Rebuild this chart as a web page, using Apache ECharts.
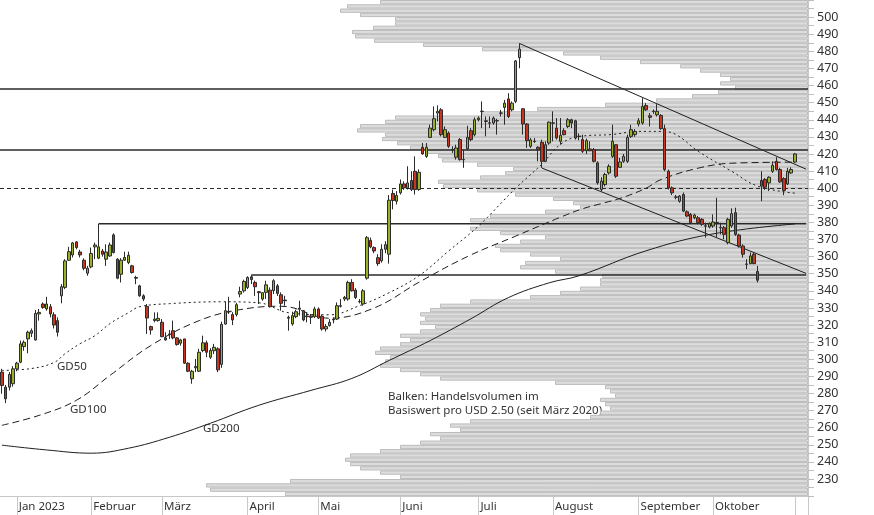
<!DOCTYPE html>
<html><head><meta charset="utf-8">
<script src="https://cdn.jsdelivr.net/npm/echarts@6/dist/echarts.min.js"></script>
<style>html,body{margin:0;padding:0;background:#fff}#c{width:874px;height:515px}</style>
</head><body><div id="c"></div>
<script>
// trading-day categories
const startDate = '2022-12-27';
const holidays = ['2023-01-02','2023-01-16','2023-02-20','2023-04-07','2023-05-29','2023-06-19','2023-07-04','2023-09-04'];
const nCategories = 217;
const monthLabels = {1:'Jan 2023',2:'Februar',3:'März',4:'April',5:'Mai',6:'Juni',7:'Juli',8:'August',9:'September',10:'Oktober'};
// candles [open, close, low, high]
const candles = [
[292.5,284.7,279.9,294.4],[283.7,276.9,274.4,285.0],[283.7,291.1,281.8,292.5],[285.7,294.4,284.0,296.0],[294.4,297.7,293.0,298.5],
[298.3,309.0,297.7,310.9],[307.4,309.9,305.0,311.0],[311.9,315.8,303.5,316.7],[315.2,316.7,313.0,318.0],[311.3,326.8,310.9,328.8],
[326.5,327.4,322.6,329.4],[332.3,330.3,329.5,333.2],[329.4,332.3,328.4,336.5],[330.7,326.5,324.5,332.3],[326.0,320.0,318.0,327.5],
[322.6,315.8,313.3,324.5],[337.1,342.4,332.7,343.9],[342.0,357.5,341.0,358.5],[357.9,362.9,357.5,365.7],[361.0,368.0,359.5,368.6],
[368.6,365.3,364.3,369.0],[362.7,361.0,359.5,364.0],[357.9,353.2,352.0,359.0],[350.3,353.2,348.8,354.6],[354.0,361.8,353.2,365.3],
[365.7,366.8,358.5,368.2],[359.1,365.7,358.5,379.2],[363.3,361.4,360.0,364.5],[358.5,362.7,354.6,367.2],[360.4,366.8,359.8,368.2],
[372.7,362.4,361.8,373.6],[358.5,347.4,346.8,359.1],[349.7,357.9,344.9,359.1],[357.9,359.5,357.5,362.9],[356.5,360.8,355.6,362.9],
[354.6,350.7,350.1,355.2],[347.8,347.4,343.9,348.8],[342.9,337.1,336.5,343.5],[337.1,335.2,334.0,338.0],[330.9,324.1,314.8,332.3],
[319.1,317.1,314.4,319.7],[322.6,323.5,321.6,327.4],[322.6,323.9,322.0,327.4],[321.6,313.2,312.9,323.5],[312.5,311.3,310.9,315.8],
[314.4,314.8,311.9,317.1],[316.7,312.5,311.7,322.6],[312.5,308.6,308.0,312.9],[309.4,311.3,308.0,312.0],[311.9,297.7,297.3,312.0],
[297.7,293.0,292.5,298.3],[288.6,293.0,285.7,293.8],[295.0,295.8,292.5,300.2],[293.0,304.1,292.5,306.1],[305.1,309.6,304.1,313.8],
[309.6,304.1,301.2,310.9],[301.2,305.1,300.2,306.5],[305.0,307.0,303.0,309.0],[306.1,293.8,292.5,307.0],[297.0,320.4,295.0,322.0],
[320.6,328.4,320.2,333.6],[328.0,327.7,326.5,336.5],[326.1,323.0,320.0,327.5],[326.1,331.9,325.0,333.0],[338.1,339.6,336.2,342.4],
[340.0,345.5,339.0,346.5],[342.0,347.8,341.0,348.5],[348.2,346.6,344.0,349.3],[344.9,342.4,337.1,346.0],[339.5,338.9,332.3,339.7],
[335.2,338.9,334.2,339.1],[339.1,343.5,335.2,345.9],[340.4,330.7,330.3,342.0],[340.1,345.9,338.1,346.8],[342.9,338.5,337.0,344.0],
[337.7,332.7,328.4,339.1],[334.6,334.2,331.3,337.1],[324.5,324.0,316.7,325.5],[320.6,325.5,319.6,327.8],[324.9,327.8,324.0,329.0],
[329.2,329.9,325.5,334.2],[328.4,323.0,322.2,328.8],[325.3,324.9,321.6,327.4],[325.3,324.5,320.6,326.5],[324.9,329.4,324.1,330.7],
[329.4,324.1,323.5,330.3],[325.1,317.7,316.7,326.2],[317.7,319.1,316.2,320.6],[319.7,321.6,319.1,323.5],[323.5,323.0,321.0,324.5],
[323.5,331.3,323.0,333.2],[331.3,331.0,330.3,335.2],[335.2,336.2,334.0,337.0],[335.2,344.9,334.2,345.9],[344.9,340.0,339.6,346.8],
[340.4,336.1,335.2,341.6],[333.8,333.6,332.7,335.2],[332.3,340.0,331.3,341.0],[347.4,371.1,346.5,372.0],[369.5,365.7,364.9,371.1],
[365.3,363.3,362.0,366.0],[359.4,355.9,354.6,361.4],[357.5,364.3,356.5,367.2],[364.3,367.0,362.0,369.0],[361.4,393.0,355.9,396.0],
[396.9,392.8,387.6,399.2],[392.4,395.7,390.5,398.3],[397.3,402.5,396.3,405.1],[402.5,400.2,399.0,404.0],[400.2,403.1,399.2,412.8],
[404.5,399.2,398.3,409.9],[409.9,399.2,396.3,418.6],[399.2,409.3,398.5,411.0],[423.9,420.0,419.6,426.4],[418.6,423.9,417.7,426.4],
[429.7,435.1,429.3,437.1],[434.2,440.6,433.2,447.8],[443.9,444.9,439.0,448.4],[445.8,431.3,430.3,446.8],[429.7,434.2,429.3,436.1],
[432.2,424.5,423.5,433.2],[422.6,422.4,420.6,424.5],[418.1,423.5,416.7,425.4],[428.4,416.7,416.1,429.3],[416.8,416.6,411.9,422.5],
[423.1,429.7,422.5,436.5],[433.6,428.4,427.4,435.1],[431.3,440.0,430.3,441.4],[440.0,441.0,439.0,442.0],[444.8,445.0,435.1,450.7],
[439.4,439.0,430.3,441.9],[438.2,438.0,435.1,441.9],[438.1,441.0,437.1,441.9],[439.5,439.3,431.3,440.6],[443.8,444.0,441.9,445.8],
[447.2,449.7,437.1,451.6],[452.2,441.9,441.0,455.5],[445.8,449.7,444.9,450.7],[450.7,474.4,449.7,474.9],[476.3,481.3,470.1,484.6],
[446.4,437.5,431.3,446.8],[437.5,427.8,423.5,438.1],[424.5,428.2,423.5,429.3],[427.5,427.3,426.4,429.3],[423.9,422.5,415.7,424.5],
[426.8,415.7,411.9,428.4],[415.7,425.4,415.2,427.4],[426.4,438.6,425.4,439.0],[438.2,438.0,427.4,444.9],[435.1,429.3,428.4,441.0],
[427.4,430.9,425.4,441.0],[433.6,431.3,430.9,435.1],[436.1,440.0,435.1,441.0],[440.0,438.1,435.1,440.6],[439.4,429.3,428.4,440.0],
[430.4,430.2,428.0,432.0],[428.4,421.6,420.6,431.3],[421.9,427.8,420.0,429.0],[422.9,421.9,421.6,427.4],[422.5,415.7,415.0,423.5],
[414.8,403.1,402.1,415.7],[399.2,404.1,398.3,406.4],[402.1,408.0,401.0,409.0],[408.9,412.8,408.0,414.0],[418.6,427.4,417.7,437.1],
[425.4,407.0,406.0,425.8],[412.2,415.3,411.9,417.7],[415.7,418.6,414.8,420.0],[415.7,429.7,414.8,431.3],[430.3,434.2,429.3,437.1],
[431.3,433.2,430.0,434.5],[437.5,439.4,436.1,441.0],[438.1,447.8,437.1,452.6],[448.3,445.8,445.2,449.7],[442.3,441.4,436.1,443.9],
[445.0,444.8,443.5,446.0],[442.9,444.9,441.9,449.1],[442.5,434.8,434.2,443.3],[434.8,410.9,409.9,437.1],[409.9,400.2,399.2,410.9],
[400.2,397.3,396.0,401.0],[394.9,394.7,393.5,396.0],[392.4,395.4,391.5,396.0],[396.3,386.6,386.0,397.5],[386.2,383.7,383.1,387.0],
[384.7,379.8,379.0,385.5],[382.7,384.3,381.8,385.1],[382.7,379.8,378.9,383.7],[381.8,378.9,378.0,382.5],[378.0,377.8,371.1,379.8],
[377.3,379.2,376.5,380.0],[377.9,380.2,376.9,384.7],[379.9,379.7,371.1,394.4],[377.0,376.8,373.0,379.8],[376.9,373.0,370.1,377.9],
[368.2,381.8,367.2,382.7],[377.9,385.1,376.9,388.2],[385.7,373.0,372.1,388.6],[372.6,366.2,365.3,373.4],[366.2,361.4,359.4,367.2],
[355.7,355.5,352.7,358.5],[355.9,360.4,355.6,362.4],[361.4,355.9,355.6,362.4],[351.3,346.2,344.9,354.6],[404.5,401.2,392.4,409.9],
[405.1,400.6,399.0,406.0],[403.1,406.4,398.3,407.0],[409.9,413.4,408.9,415.7],[415.7,410.9,410.3,418.1],[410.9,403.7,403.1,411.9],
[405.6,398.7,395.9,406.4],[402.5,409.9,401.8,411.9],[408.9,410.9,408.4,412.2],[415.3,420.0,414.8,420.6]
];
// moving averages read as [dayIndex, value]
const gd50 = [[0,293.5],[8,294.6],[14,298.1],[17,303.3],[21,309.1],[25,313.8],[29,320.8],[34,327.2],[37,330.7],[45,332.5],[59,333.6],[69,333.0],[77,327.2],[88,326.0],[96,331.3],[104,338.9],[112,348.8],[120,363.3],[128,377.9],[138,400.0],[145,414.0],[150,425.6],[155,430.2],[164,431.4],[171,433.2],[177,433.2],[181,431.4],[187,421.6],[196,409.9],[203,401.2],[213,397.1]];
const gd100 = [[0,261.4],[10,267.2],[20,276.0],[29,290.5],[40,308.0],[53,322.6],[64,329.0],[75,331.0],[88,324.0],[100,330.0],[112,345.0],[125,360.0],[138,372.0],[150,383.0],[156,388.0],[161,391.0],[166,394.0],[173,400.0],[177,405.0],[187,411.7],[196,414.6],[213,415.2]];
const gd200 = [[0,249.8],[12,247.0],[24,245.1],[34,248.0],[45,254.4],[56,262.6],[69,273.1],[83,281.8],[94,288.8],[104,299.3],[115,310.9],[126,323.7],[136,336.0],[147,344.7],[155,348.8],[173,363.4],[191,373.3],[213,379.1]];
// horizontal levels and trend lines
const fullLevels = [457.9, 422.6];
const dashedLevel = 400;
const partialLevels = [[26, 379.2], [67, 349.3]];
const upperTrend = [[139, 484.6], [216, 411.1]];
const lowerTrend = [[145, 411.8], [216, 350.2]];
// volume profile per USD 2.50 band, bottom band (220) upward, relative units
const volumeBandStart = 220, volumeBandStep = 2.5;
const volumeProfile = [
523,598,602,518,408,428,448,458,463,458,
428,408,388,368,378,348,358,338,218,208,
198,203,208,193,198,203,253,368,388,408,
428,423,418,433,428,408,398,408,388,373,
388,383,388,378,368,338,278,248,228,208,
208,206,253,288,283,248,278,308,313,288,
263,308,338,328,338,318,263,228,235,255,
293,331,365,370,328,303,295,331,366,370,
383,398,411,426,423,451,448,423,413,326,
271,203,152,116,90,73,88,78,88,108,
128,168,208,245,326,385,434,453,456,435,
413,413,448,468,461,428
];
const axisMin = 220, axisMax = 510;

const cats = [];
(function(){
  let d = new Date(startDate + 'T12:00:00Z');
  while (cats.length < nCategories) {
    const wd = d.getUTCDay();
    const s = d.toISOString().slice(0,10);
    if (wd !== 0 && wd !== 6 && holidays.indexOf(s) < 0) cats.push(s);
    d = new Date(d.getTime() + 86400000);
  }
})();
function isMonthStart(i){ return i > 0 && cats[i].slice(5,7) !== cats[i-1].slice(5,7); }
const bandCats = volumeProfile.map((v,i)=> (volumeBandStart + i*volumeBandStep).toFixed(2));

const FONT = '"Noto Sans", "Open Sans", sans-serif';
const chart = echarts.init(document.getElementById('c'), null, {renderer:'canvas'});
const lineSty = (type)=>({color:'#1e1e1e', width:1, type});
chart.setOption({
  animation:false,
  backgroundColor:'#ffffff',
  grid:[{left:0, top:-1.87, width:808, height:498, containLabel:false}],
  xAxis:[
    {type:'category', data:cats, boundaryGap:true, gridIndex:0,
     axisLine:{show:true, lineStyle:{color:'#c8c8c8', width:1}},
     axisTick:{show:true, alignWithLabel:true, interval:(i)=>isMonthStart(i), length:20, lineStyle:{color:'#c8c8c8'}},
     axisLabel:{show:true, interval:(i)=>isMonthStart(i), align:'left', margin:5, padding:[0,0,0,2],
       color:'#333', fontSize:11.5, fontFamily:FONT,
       formatter:(v, i)=>{ if(!isMonthStart(i)) return ''; const m = parseInt(v.slice(5,7),10); return monthLabels[m] || ''; }},
     splitLine:{show:false}},
    {type:'value', gridIndex:0, inverse:true, min:0, max:808, show:false}
  ],
  yAxis:[
    {type:'value', position:'right', min:axisMin, max:axisMax, interval:5, gridIndex:0,
     axisLine:{show:true, lineStyle:{color:'#c8c8c8'}},
     axisTick:{show:true, length:6, lineStyle:{color:'#bdbdbd'}},
     axisLabel:{margin:9, color:'#333', fontSize:12.5, fontFamily:FONT,
       formatter:(v)=> (v % 10 === 0 && v >= 230 && v <= 500) ? String(v) : ''},
     splitLine:{show:false}},
    {type:'category', data:bandCats, boundaryGap:true, gridIndex:0, show:false}
  ],
  series:[
    {type:'bar', name:'volume', xAxisIndex:1, yAxisIndex:1, data:volumeProfile, barCategoryGap:'0%', z:1,
     itemStyle:{color:'#dcdcdc', borderColor:'#bcbcbc', borderWidth:1}, silent:true},
    {type:'line', name:'levels', xAxisIndex:0, yAxisIndex:0, data:[], z:3, silent:true,
     markLine:{symbol:'none', silent:true, label:{show:false},
       data:[
         ...fullLevels.map(v=>({yAxis:v, lineStyle:{color:'#2a2a2a', width:1.5, type:'solid'}})),
         {yAxis:dashedLevel, lineStyle:{color:'#2a2a2a', width:1.2, type:[4,3]}}
       ]}},
    ...partialLevels.map(p=>({type:'line', xAxisIndex:0, yAxisIndex:0, data:[[p[0],p[1]],[nCategories-1,p[1]]], symbol:'none', z:3, silent:true, lineStyle:{color:'#2a2a2a', width:1.5}})),
    {type:'line', name:'upperTrend', data:upperTrend, symbol:'none', z:4, silent:true, lineStyle:lineSty('solid')},
    {type:'line', name:'lowerTrend', data:lowerTrend, symbol:'none', z:4, silent:true, lineStyle:lineSty('solid')},
    {type:'line', name:'GD200', data:gd200, symbol:'none', smooth:0.4, z:4, silent:true, lineStyle:lineSty('solid')},
    {type:'line', name:'GD100', data:gd100, symbol:'none', smooth:0.4, z:4, silent:true, lineStyle:lineSty([7,4])},
    {type:'line', name:'GD50', data:gd50, symbol:'none', smooth:0.4, z:4, silent:true, lineStyle:lineSty([2,3])},
    {type:'candlestick', name:'price', xAxisIndex:0, yAxisIndex:0, data:candles, barWidth:3, z:5, silent:true,
     itemStyle:{color:'#98b125', color0:'#c8361f', borderColor:'#2b2b2b', borderColor0:'#2b2b2b', borderWidth:1}}
  ],
  graphic:[
    {type:'line', shape:{x1:808.5, y1:496, x2:808.5, y2:515}, style:{stroke:'#c8c8c8', lineWidth:1}, silent:true},
    {type:'text', left:57, top:361, style:{text:'GD50', fill:'#333', font:'11.5px '+FONT}},
    {type:'text', left:70, top:404, style:{text:'GD100', fill:'#333', font:'11.5px '+FONT}},
    {type:'text', left:203, top:423, style:{text:'GD200', fill:'#333', font:'11.5px '+FONT}},
    {type:'text', left:388, top:389, style:{text:'Balken: Handelsvolumen im\nBasiswert pro USD 2.50 (seit März 2020)', fill:'#333', font:'11.5px '+FONT, lineHeight:14.5}}
  ]
});
</script></body></html>
